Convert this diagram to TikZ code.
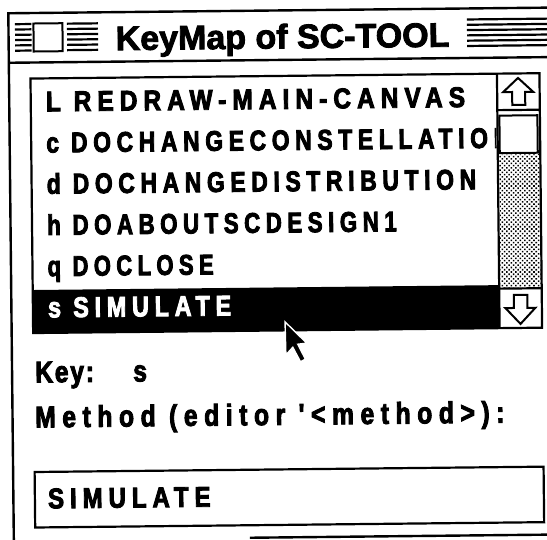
\documentclass[tikz,border=0pt]{standalone}
\usepackage{fontspec}
\setmainfont{Liberation Sans}
% condensed, letter-spaced heavy face for the dialog texts
\newfontfamily\uifont[LetterSpace=20, FakeStretch=0.8, FakeBold=3]{Liberation Sans}
\newfontfamily\labelfont[LetterSpace=22, FakeStretch=0.82, FakeBold=3]{Liberation Sans}
\newfontfamily\keyfont[LetterSpace=6, FakeStretch=0.82, FakeBold=3]{Liberation Sans}
\newfontfamily\titlefont[FakeBold=2.5]{Liberation Sans}
\usetikzlibrary{patterns.meta}
\begin{document}
\begin{tikzpicture}[x=1pt,y=-1pt,
  frame/.style={line width=2.4pt},
  boxline/.style={line width=2.2pt},
  stripe/.style={line width=2.2pt},
  arrowglyph/.style={line width=2pt, line join=miter},
  titletext/.style={anchor=base, inner sep=0pt, font=\titlefont\bfseries\fontsize{34}{38}\selectfont},
  listitem/.style={anchor=base west, inner sep=0pt, font=\uifont\bfseries\fontsize{28.5}{32}\selectfont},
  labeltext/.style={anchor=base west, inner sep=0pt, font=\labelfont\bfseries\fontsize{30}{34}\selectfont},
  keytext/.style={anchor=base west, inner sep=0pt, font=\keyfont\bfseries\fontsize{30}{34}\selectfont}]
\useasboundingbox (0,0) rectangle (547,539);
\fill[white] (0,0) rectangle (547,539);
\clip (0,0) rectangle (547,539);
\begin{scope}[rotate around={0.6:(273,270)}, transform shape]

% window frame and title bar
\draw[frame] (11,570) -- (11,10.5) -- (580,10.5);
\draw[frame] (11,60) -- (580,60);
\foreach \k in {0,...,5} {
  \draw[stripe] (17.5,21.5+5.3*\k) -- (34,21.5+5.3*\k);
  \draw[stripe] (69.5,21.5+5.3*\k) -- (100.5,21.5+5.3*\k);
  \draw[stripe] (469.5,21.5+5.3*\k) -- (580,21.5+5.3*\k);
}
\node[draw, line width=2pt, fill=white, minimum width=29pt, minimum height=28pt, inner sep=0pt]
  (closebox) at (50.5,35) {};
\node[titletext] (title) at (285,48.5) {KeyMap of SC-TOOL};

% list of key bindings
\fill (32.5,287.5) rectangle (499,330.5);
\begin{scope}
  \clip (33.6,77.2) rectangle (497.8,329.4);
  \node[listitem, xscale=1.07] (kL) at (47.5,109) {L REDRAW-MAIN-CANVAS};
  \node[listitem] (kc) at (47.5,150.2) {c DOCHANGECONSTELLATION};
  \node[listitem] (kd) at (47.5,191.4) {d DOCHANGEDISTRIBUTION};
  \node[listitem, xscale=0.975] (kh) at (47.5,232.6) {h DOABOUTSCDESIGN1};
  \node[listitem, xscale=0.96] (kq) at (47.5,273.8) {q DOCLOSE};
  \node[listitem, xscale=1.02, text=white] (ks) at (47.5,315) {s SIMULATE};
\end{scope}

% scroll bar
\fill[pattern={Dots[distance=3.2pt,radius=1.1pt,angle=45]}] (500.5,157) rectangle (540.5,290);
\draw[line width=2pt, fill=white] (501,118) rectangle (539,155.5);
\draw[boxline] (499,76) -- (499,330.5);
\draw[boxline] (499,112.5) -- (541.5,112.5);
\draw[boxline] (499,291) -- (541.5,291);
\draw[boxline] (32.5,76) rectangle (541.5,330.5);
\draw[arrowglyph] (520,80.5) -- (535,94.5) -- (527,94.5) -- (527,107.5)
  -- (514,107.5) -- (514,94.5) -- (505,94.5) -- cycle;
\draw[arrowglyph] (520,326.5) -- (535,310.5) -- (527,310.5) -- (527,297.5)
  -- (513.5,297.5) -- (513.5,310.5) -- (505,310.5) -- cycle;

% pointer
\filldraw[fill=black, draw=white, line width=1.4pt, line join=miter]
  (284.5,322) -- (306,343.5) -- (297,344.5) -- (304.5,359.5) -- (299.5,362)
  -- (292,347.5) -- (285,355) -- cycle;

% key and method fields
\node[keytext] (keylabel) at (34,380) {Key:};
\node[labeltext] (keyvalue) at (132,380) {s};
\node[labeltext] (methodlabel) at (33.5,425) {Method (editor '<method>):};
\draw[boxline] (32.5,469.5) rectangle (541.5,525);
\node[listitem, xscale=1.05] (methodvalue) at (45.5,506) {SIMULATE};
\draw[frame] (247,537.5) -- (580,537.5);
\end{scope}
\end{tikzpicture}
\end{document}
